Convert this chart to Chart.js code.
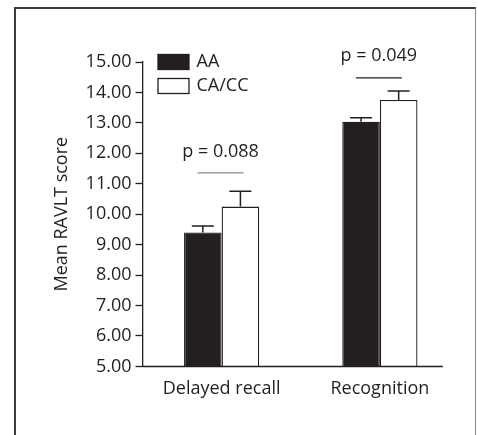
<!DOCTYPE html>
<html>
<head>
<meta charset="utf-8">
<script src="https://cdn.jsdelivr.net/npm/chart.js@4"></script>
<style>
  body { margin: 0; background: #fff; }
  .frame { position: absolute; left: 14px; top: 7px; width: 459px; height: 440px;
           border-left: 2px solid #3a3a3a; border-top: 2px solid #3a3a3a; border-right: 1px solid #888; }
  .wrap { position: absolute; left: 0; top: 0; width: 478px; height: 435px; }
</style>
</head>
<body>
<div class="frame"></div>
<div class="wrap"><canvas id="barChart" width="478" height="435"></canvas></div>
<script>
// data
const categories = ['Delayed recall', 'Recognition'];
const groupNames = ['AA', 'CA/CC'];
const aaMeans = [9.40, 13.04];
const aaErr = [0.21, 0.13];
const ccMeans = [10.25, 13.75];
const ccErr = [0.50, 0.30];
const yTicks = [5, 6, 7, 8, 9, 10, 11, 12, 13, 14, 15];
const pLabels = ['p = 0.088', 'p = 0.049'];
const pLineAt = [11.36, 14.48];
const pTextAt = [12.05, 15.2];
const pLineColors = ['#8a8a8a', '#231f20'];

const fontFam = '"Open Sans", "Noto Sans", sans-serif';
const fontSize = 18;
const ink = '#231f20';

// error bars (upward only) + p-value annotations + legend + shortened x-axis line
const extras = {
  id: 'extras',
  afterDatasetsDraw(chart) {
    const ctx = chart.ctx;
    const y = chart.scales.y;
    const x = chart.scales.x;
    const errs = [aaErr, ccErr];
    ctx.save();
    ctx.strokeStyle = ink;
    ctx.lineWidth = 1.5;
    chart.data.datasets.forEach((ds, di) => {
      chart.getDatasetMeta(di).data.forEach((bar, i) => {
        const top = y.getPixelForValue(ds.data[i] + errs[di][i]);
        ctx.beginPath();
        ctx.moveTo(bar.x, bar.y);
        ctx.lineTo(bar.x, top);
        ctx.moveTo(bar.x - 11, top);
        ctx.lineTo(bar.x + 11, top);
        ctx.stroke();
      });
    });

    // x axis line, stops short of the right edge
    const x0 = chart.chartArea.left;
    const bottom = y.getPixelForValue(5);
    ctx.beginPath();
    ctx.moveTo(x0, bottom);
    ctx.lineTo(x.getPixelForValue(1) + 63, bottom);
    ctx.stroke();

    // p values
    ctx.font = fontSize + 'px ' + fontFam;
    ctx.fillStyle = ink;
    ctx.textAlign = 'center';
    ctx.textBaseline = 'middle';
    categories.forEach((c, i) => {
      const cx = x.getPixelForValue(i) - 1;
      ctx.fillText(pLabels[i], cx, y.getPixelForValue(pTextAt[i]));
      const ly = y.getPixelForValue(pLineAt[i]);
      ctx.strokeStyle = pLineColors[i];
      ctx.lineWidth = 1.3;
      ctx.beginPath();
      ctx.moveTo(cx - 23, ly);
      ctx.lineTo(cx + 23, ly);
      ctx.stroke();
    });

    // legend
    ctx.textAlign = 'left';
    chart.data.datasets.forEach((ds, di) => {
      const ly = y.getPixelForValue(15) - 8 + di * 24;
      ctx.fillStyle = ds.backgroundColor;
      ctx.fillRect(x0 + 15.5, ly + 0.5, 31, 15);
      ctx.strokeStyle = ink;
      ctx.lineWidth = 1.3;
      ctx.strokeRect(x0 + 15.5, ly + 0.5, 31, 15);
      ctx.fillStyle = ink;
      ctx.fillText(ds.label, x0 + 54, ly + 8);
    });
    ctx.restore();
  }
};

const chart = new Chart(document.getElementById('barChart').getContext('2d'), {
  type: 'bar',
  data: {
    labels: categories,
    datasets: [
      { label: groupNames[0], data: aaMeans, backgroundColor: ink, borderColor: ink, borderWidth: 1.3 },
      { label: groupNames[1], data: ccMeans, backgroundColor: '#ffffff', borderColor: ink, borderWidth: 1.3 }
    ]
  },
  options: {
    responsive: false,
    animation: false,
    layout: { padding: { top: 62, right: 19, bottom: 23, left: 42 } },
    datasets: { bar: { categoryPercentage: 0.475, barPercentage: 1 } },
    scales: {
      x: {
        grid: { display: false, drawTicks: false },
        border: { display: false },
        ticks: { color: ink, font: { family: fontFam, size: fontSize }, padding: 12 }
      },
      y: {
        min: 5,
        max: 15,
        afterBuildTicks: (s) => { s.ticks = yTicks.map(v => ({ value: v })); },
        grid: { drawOnChartArea: false, drawTicks: true, tickLength: 7, color: ink, tickWidth: 1.3 },
        border: { display: true, color: ink, width: 1.3 },
        ticks: { color: ink, font: { family: fontFam, size: fontSize }, padding: 4,
                 callback: (v) => Number(v).toFixed(2) },
        title: { display: true, text: 'Mean RAVLT score', color: ink,
                 font: { family: fontFam, size: fontSize }, padding: 9 }
      }
    },
    plugins: { legend: { display: false }, tooltip: { enabled: false } }
  },
  plugins: [extras]
});
</script>
</body>
</html>
